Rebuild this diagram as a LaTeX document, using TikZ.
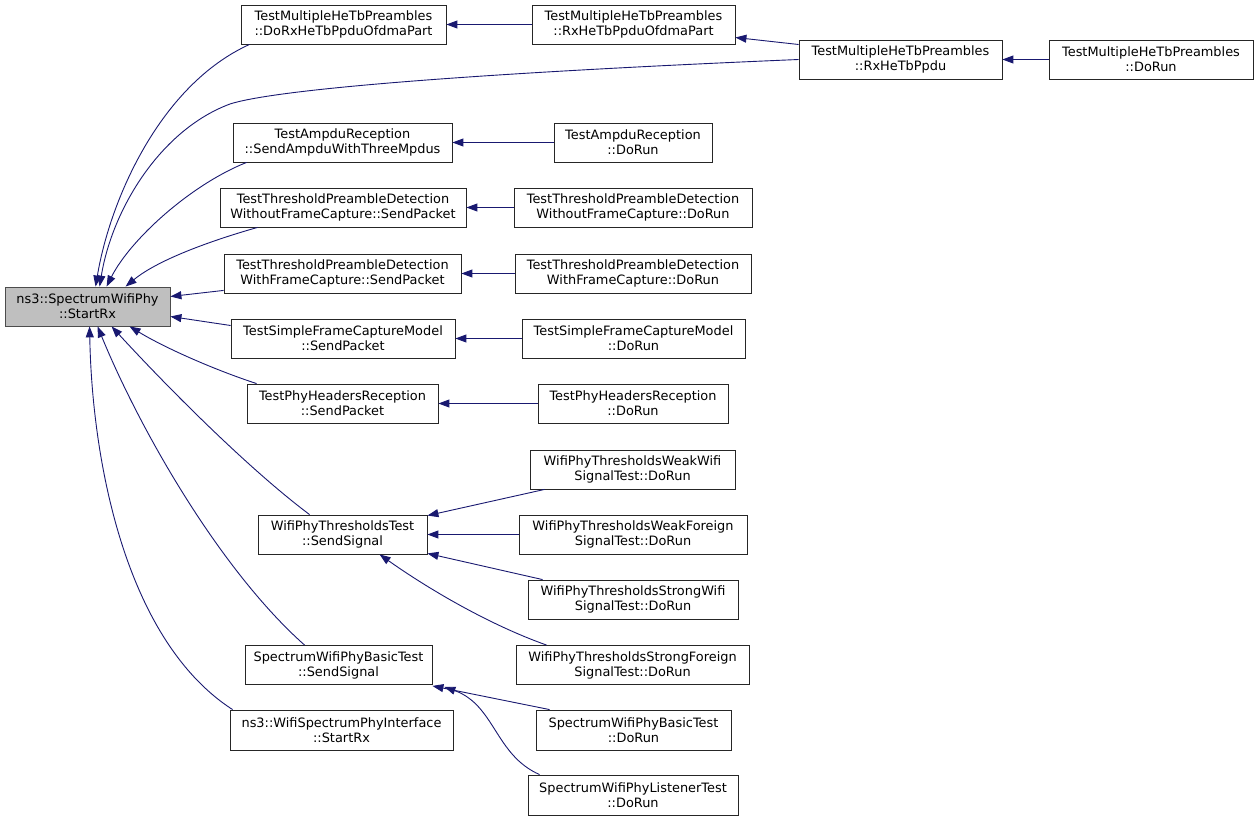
\documentclass[tikz,border=0pt]{standalone}
\usepackage{fontspec}
\setmainfont{DejaVu Sans}
\usetikzlibrary{arrows.meta,calc}
\definecolor{edgeblue}{HTML}{191970}
\definecolor{rootgray}{HTML}{BFBFBF}
\begin{document}
\begin{tikzpicture}[x=1pt,y=-1pt,
  box/.style={draw=black!85, line width=0.85pt, fill=white, rectangle, align=center, inner sep=0pt,
    minimum height=39pt, font=\fontsize{12.9}{15}\selectfont},
  rootbox/.style={box, draw=black!70, fill=rootgray},
  call/.style={draw=edgeblue, line width=0.9pt, -{Triangle[length=11pt,width=8pt]}, color=edgeblue}
]
\useasboundingbox (0,0) rectangle (1259,821);
% root
\node[rootbox, minimum width=165pt] (root) at (87.5,306.5) {ns3::SpectrumWifiPhy\\::StartRx};
% column 2
\node[box, minimum width=205pt] (A) at (343.5,24.5) {TestMultipleHeTbPreambles\\::DoRxHeTbPpduOfdmaPart};
\node[box, minimum width=219pt] (B) at (342.5,142.5) {TestAmpduReception\\::SendAmpduWithThreeMpdus};
\node[box, minimum width=246pt] (C) at (343,207.5) {TestThresholdPreambleDetection\\WithoutFrameCapture::SendPacket};
\node[box, minimum width=237pt] (D) at (342.5,273.5) {TestThresholdPreambleDetection\\WithFrameCapture::SendPacket};
\node[box, minimum width=224pt] (E) at (343,338.5) {TestSimpleFrameCaptureModel\\::SendPacket};
\node[box, minimum width=191pt] (F) at (342.5,403.5) {TestPhyHeadersReception\\::SendPacket};
\node[box, minimum width=169pt] (G) at (342.5,534.5) {WifiPhyThresholdsTest\\::SendSignal};
\node[box, minimum width=187pt] (H) at (338.5,665) {SpectrumWifiPhyBasicTest\\::SendSignal};
\node[box, minimum width=223pt, minimum height=40pt] (I) at (341.5,730) {ns3::WifiSpectrumPhyInterface\\::StartRx};
% column 3
\node[box, minimum width=203pt] (A2) at (633.5,24.5) {TestMultipleHeTbPreambles\\::RxHeTbPpduOfdmaPart};
\node[box, minimum width=158pt] (B2) at (633,142.5) {TestAmpduReception\\::DoRun};
\node[box, minimum width=238pt] (C2) at (633,207.5) {TestThresholdPreambleDetection\\WithoutFrameCapture::DoRun};
\node[box, minimum width=236pt] (D2) at (633,273.5) {TestThresholdPreambleDetection\\WithFrameCapture::DoRun};
\node[box, minimum width=223pt] (E2) at (633.5,338.5) {TestSimpleFrameCaptureModel\\::DoRun};
\node[box, minimum width=190pt] (F2) at (633,403.5) {TestPhyHeadersReception\\::DoRun};
\node[box, minimum width=205pt] (G1) at (632.5,469.5) {WifiPhyThresholdsWeakWifi\\SignalTest::DoRun};
\node[box, minimum width=228pt] (G2) at (633,534.5) {WifiPhyThresholdsWeakForeign\\SignalTest::DoRun};
\node[box, minimum width=210pt] (G3) at (633,599.5) {WifiPhyThresholdsStrongWifi\\SignalTest::DoRun};
\node[box, minimum width=233pt] (G4) at (632.5,665) {WifiPhyThresholdsStrongForeign\\SignalTest::DoRun};
\node[box, minimum width=195pt, minimum height=40pt] (H1) at (633.5,730) {SpectrumWifiPhyBasicTest\\::DoRun};
\node[box, minimum width=210pt, minimum height=40pt] (H2) at (633,795) {SpectrumWifiPhyListenerTest\\::DoRun};
% column 4,5
\node[box, minimum width=203pt] (J) at (900.5,59.5) {TestMultipleHeTbPreambles\\::RxHeTbPpdu};
\node[box, minimum width=204pt] (K) at (1151,59.5) {TestMultipleHeTbPreambles\\::DoRun};
% edges into root
\draw[call] ($(A.south west)+(9,0)$) .. controls (160,85) and (110,200) .. ($(root.north west)+(91,0)$);
\draw[call] (J.west) .. controls (500,72) and (280,88) .. (230,104) .. controls (160,130) and (112,210) .. ($(root.north west)+(95,0)$);
\draw[call] ($(B.south west)+(14,0)$) .. controls (190,185) and (130,240) .. ($(root.north west)+(102,0)$);
\draw[call] ($(C.south west)+(38,0)$) .. controls (220,238) and (160,258) .. ($(root.north west)+(121,0)$);
\draw[call] ($(D.south west)+(0,-3)$) -- ($(root.east)+(0,-10)$);
\draw[call] ($(E.west)+(0,-13)$) -- ($(root.east)+(0,10)$);
\draw[call] ($(F.north west)+(10,0)$) .. controls (215,370) and (165,348) .. ($(root.south west)+(125,0)$);
\draw[call] ($(G.north west)+(52,0)$) .. controls (250,470) and (170,390) .. ($(root.south west)+(107,0)$);
\draw[call] ($(H.north west)+(60,0)$) .. controls (220,570) and (140,430) .. ($(root.south west)+(93,0)$);
\draw[call] ($(I.north west)+(3,0)$) .. controls (125,640) and (92,460) .. ($(root.south west)+(85,0)$);
% top chain
\draw[call] (A2.west) -- (A.east);
\draw[call] ($(J.west)+(0,-15)$) -- ($(A2.east)+(0,13)$);
\draw[call] (K.west) -- (J.east);
% horizontal pairs
\draw[call] (B2.west) -- (B.east);
\draw[call] (C2.west) -- (C.east);
\draw[call] (D2.west) -- (D.east);
\draw[call] (E2.west) -- (E.east);
\draw[call] (F2.west) -- (F.east);
% WifiPhyThresholdsTest callers
\draw[call] ($(G1.south west)+(15,0)$) -- ($(G.north east)+(0,1)$);
\draw[call] (G2.west) -- (G.east);
\draw[call] ($(G3.north west)+(15,0)$) -- ($(G.south east)+(0,-1)$);
\draw[call] ($(G4.north west)+(31,0)$) .. controls (490,625) and (430,590) .. ($(G.south west)+(122,0)$);
% SpectrumWifiPhyBasicTest callers
\draw[call] ($(H1.north west)+(14,0)$) -- ($(H.south east)+(0,1)$);
\draw[call] ($(H2.north west)+(12,0)$) .. controls (495,755) and (495,705) .. ($(H.south east)+(12,2)$);
\end{tikzpicture}
\end{document}
